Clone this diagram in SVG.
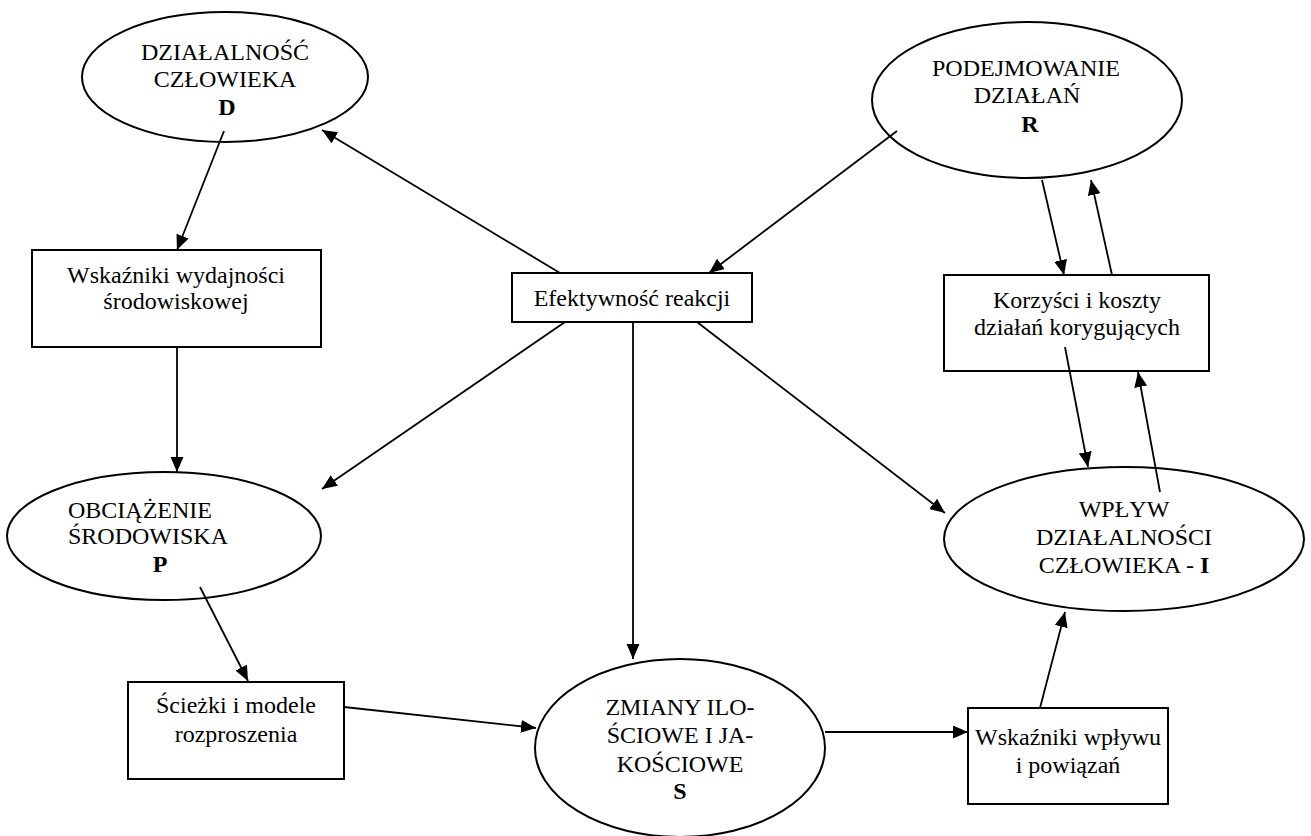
<svg xmlns="http://www.w3.org/2000/svg" width="1311" height="836" viewBox="0 0 1311 836">
<style>
.shape{fill:#fff;stroke:#000;stroke-width:2}
.t{font-family:"Liberation Serif","Times New Roman",serif;font-size:24px;fill:#000;text-anchor:middle}
.b{font-weight:bold}
.c{stroke:#000;stroke-width:1.8;fill:none;marker-end:url(#ah)}
</style>
<defs>
<marker id="ah" markerUnits="userSpaceOnUse" markerWidth="16" markerHeight="14" refX="15" refY="6.5" orient="auto">
<path d="M0,0 L15,6.5 L0,13 z" fill="#000"/>
</marker>
</defs>
<rect width="1311" height="836" fill="#fff"/>
<g id="D">
<ellipse class="shape" cx="225" cy="77" rx="143" ry="65"/>
<text class="t" x="225" y="60">DZIAŁALNOŚĆ</text>
<text class="t" x="225" y="87">CZŁOWIEKA</text>
<text class="t b" x="227" y="115">D</text>
</g>
<g id="R">
<ellipse class="shape" cx="1027" cy="100" rx="155" ry="78"/>
<text class="t" x="1026" y="76">PODEJMOWANIE</text>
<text class="t" x="1027" y="103">DZIAŁAŃ</text>
<text class="t b" x="1030" y="132">R</text>
</g>
<g id="WskWyd">
<rect class="shape" x="32" y="250" width="289" height="97"/>
<text class="t" x="176" y="283">Wskaźniki wydajności</text>
<text class="t" x="176" y="309">środowiskowej</text>
</g>
<g id="Efekt">
<rect class="shape" x="512" y="273" width="240" height="49"/>
<text class="t" x="632" y="306">Efektywność reakcji</text>
</g>
<g id="Korzysci">
<rect class="shape" x="944" y="275" width="265" height="96"/>
<text class="t" x="1077" y="308">Korzyści i koszty</text>
<text class="t" x="1077" y="335">działań korygujących</text>
</g>
<g id="P">
<ellipse class="shape" cx="164" cy="536" rx="157" ry="64"/>
<text class="t" x="68" y="518" text-anchor="start" style="text-anchor:start">OBCIĄŻENIE</text>
<text class="t" x="68" y="544" style="text-anchor:start">ŚRODOWISKA</text>
<text class="t b" x="160" y="572">P</text>
</g>
<g id="I">
<ellipse class="shape" cx="1124" cy="539" rx="180" ry="72"/>
<text class="t" x="1124" y="517">WPŁYW</text>
<text class="t" x="1124" y="545">DZIAŁALNOŚCI</text>
<text class="t" x="1124" y="573">CZŁOWIEKA - <tspan class="b">I</tspan></text>
</g>
<g id="Sciezki">
<rect class="shape" x="128" y="682" width="216" height="97"/>
<text class="t" x="236" y="713">Ścieżki i modele</text>
<text class="t" x="236" y="742">rozproszenia</text>
</g>
<g id="S">
<ellipse class="shape" cx="680" cy="748" rx="145" ry="89"/>
<text class="t" x="680" y="715">ZMIANY ILO-</text>
<text class="t" x="680" y="743">ŚCIOWE I JA-</text>
<text class="t" x="680" y="772">KOŚCIOWE</text>
<text class="t b" x="680" y="799">S</text>
</g>
<g id="WskWpl">
<rect class="shape" x="968" y="708" width="200" height="96"/>
<text class="t" x="1068" y="745">Wskaźniki wpływu</text>
<text class="t" x="1068" y="773">i powiązań</text>
</g>
<g id="connectors">
<line class="c" x1="224" y1="131" x2="177" y2="250"/>
<line class="c" x1="560" y1="273" x2="322" y2="130"/>
<line class="c" x1="897" y1="131" x2="709" y2="273"/>
<line class="c" x1="1042" y1="180" x2="1064" y2="275"/>
<line class="c" x1="1112" y1="275" x2="1091" y2="180"/>
<line class="c" x1="1065" y1="347" x2="1088" y2="467"/>
<line class="c" x1="1160" y1="492" x2="1138" y2="372"/>
<line class="c" x1="177" y1="347" x2="177" y2="472"/>
<line class="c" x1="565" y1="322" x2="322" y2="489"/>
<line class="c" x1="633" y1="322" x2="633" y2="659"/>
<line class="c" x1="697" y1="322" x2="945" y2="513"/>
<line class="c" x1="200" y1="587" x2="248" y2="681"/>
<line class="c" x1="344" y1="707" x2="536" y2="728"/>
<line class="c" x1="825" y1="732" x2="968" y2="732"/>
<line class="c" x1="1040" y1="708" x2="1065" y2="612"/>
</g>
</svg>
